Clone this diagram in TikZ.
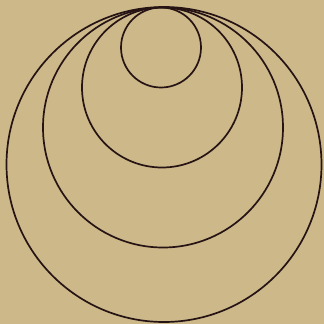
\documentclass[tikz,border=0pt]{standalone}
\definecolor{paper}{RGB}{205,184,138}
\definecolor{ink}{RGB}{38,20,20}
\begin{document}
\begin{tikzpicture}[x=1bp,y=-1bp,ring/.style={draw=ink,line width=1.7bp}]
\fill[paper] (0,0) rectangle (324,324);
\useasboundingbox (0,0) rectangle (324,324);
\coordinate (c1) at (164,164.5);
\coordinate (c2) at (163,127.5);
\coordinate (c3) at (162,87.5);
\coordinate (c4) at (161,47.5);
\draw[ring] (c1) circle[radius=157.5];
\draw[ring] (c2) circle[radius=120];
\draw[ring] (c3) circle[radius=80];
\draw[ring] (c4) circle[radius=40];
\end{tikzpicture}
\end{document}
